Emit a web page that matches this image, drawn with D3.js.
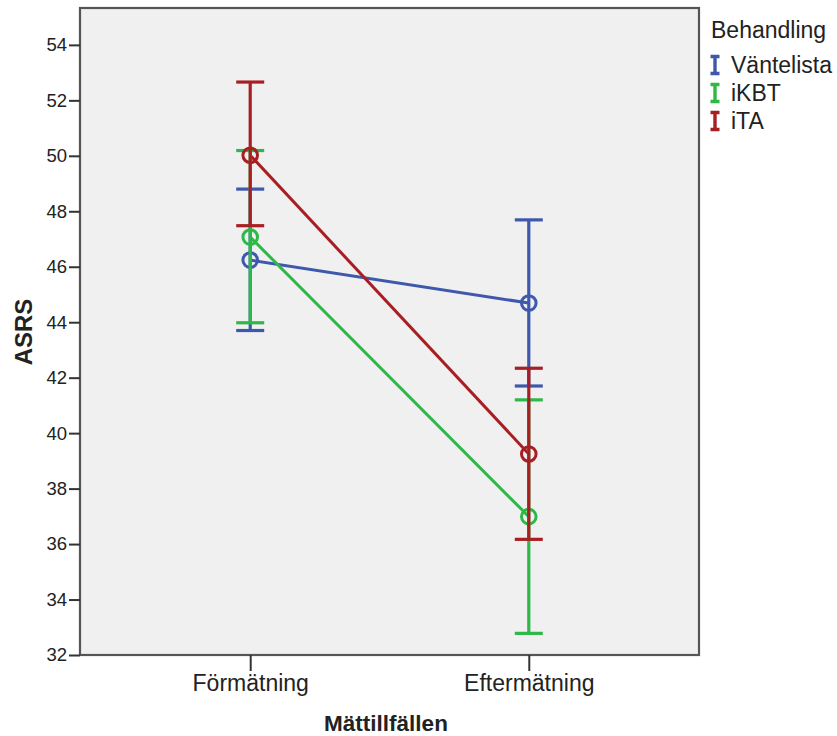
<!DOCTYPE html>
<html>
<head>
<meta charset="utf-8">
<script src="https://cdn.jsdelivr.net/npm/d3@7"></script>
<style>
  body { margin: 0; background: #fff; }
  text { font-family: "Liberation Sans", Arial, sans-serif; fill: #222; }
</style>
</head>
<body>
<div id="chart"></div>
<script>
const occasions = ["Förmätning", "Eftermätning"];
const groups = ["Väntelista", "iKBT", "iTA"];
const colors = ["#3e58ac", "#2eb848", "#a81f23"];

// mean, lower CI, upper CI per occasion
const ventMean = [46.24, 44.69];
const ventLow = [43.70, 41.70];
const ventHigh = [48.80, 47.69];

const ikbtMean = [47.07, 36.99];
const ikbtLow = [43.98, 32.78];
const ikbtHigh = [50.19, 41.20];

const itaMean = [50.02, 39.25];
const itaLow = [47.48, 36.17];
const itaHigh = [52.66, 42.34];

const yTicks = [32, 34, 36, 38, 40, 42, 44, 46, 48, 50, 52, 54];

const series = [
  { name: groups[0], mean: ventMean, low: ventLow, high: ventHigh, color: colors[0] },
  { name: groups[1], mean: ikbtMean, low: ikbtLow, high: ikbtHigh, color: colors[1] },
  { name: groups[2], mean: itaMean, low: itaLow, high: itaHigh, color: colors[2] }
];

const W = 837, H = 736;
const margin = { top: 8, right: 138, bottom: 81, left: 80 };

const svg = d3.select("#chart").append("svg")
  .attr("width", W)
  .attr("height", H);

let x = d3.scalePoint()
  .domain(occasions)
  .range([margin.left, W - margin.right])
  .padding(0.611);

let y = d3.scaleLinear()
  .domain([32, 55.33])
  .range([H - margin.bottom, margin.top]);

// plot background
svg.append("rect")
  .attr("x", margin.left)
  .attr("y", margin.top)
  .attr("width", W - margin.right - margin.left)
  .attr("height", H - margin.bottom - margin.top)
  .attr("fill", "#f0f0f0");

// lines between means
series.forEach(s => {
  svg.append("path")
    .datum(occasions)
    .attr("fill", "none")
    .attr("stroke", s.color)
    .attr("stroke-width", 3)
    .attr("d", d3.line()
      .x(d => x(d))
      .y((d, i) => y(s.mean[i])));
});

// error bars and mean markers
const cap = 14;
series.forEach(s => {
  let g = svg.append("g")
    .attr("stroke", s.color)
    .attr("stroke-width", 3.2)
    .attr("fill", "none");

  occasions.forEach((o, i) => {
    let cx = x(o);
    g.append("line")
      .attr("x1", cx).attr("x2", cx)
      .attr("y1", y(s.low[i])).attr("y2", y(s.high[i]));
    g.append("line")
      .attr("x1", cx - cap).attr("x2", cx + cap)
      .attr("y1", y(s.low[i])).attr("y2", y(s.low[i]));
    g.append("line")
      .attr("x1", cx - cap).attr("x2", cx + cap)
      .attr("y1", y(s.high[i])).attr("y2", y(s.high[i]));
    g.append("circle")
      .attr("cx", cx)
      .attr("cy", y(s.mean[i]))
      .attr("r", 7.3)
      .attr("stroke-width", 3);
  });
});

// frame
svg.append("rect")
  .attr("x", margin.left)
  .attr("y", margin.top)
  .attr("width", W - margin.right - margin.left)
  .attr("height", H - margin.bottom - margin.top)
  .attr("fill", "none")
  .attr("stroke", "#555")
  .attr("stroke-width", 2.2);

// y axis
let yAxis = svg.append("g")
  .attr("transform", "translate(" + margin.left + ",0)")
  .call(d3.axisLeft(y).tickValues(yTicks).tickSize(11).tickPadding(2));
yAxis.select(".domain").remove();
yAxis.selectAll(".tick line").attr("stroke", "#333").attr("stroke-width", 2);
yAxis.selectAll(".tick text")
  .attr("font-size", 18.5)
  .attr("font-family", "Liberation Sans, Arial, sans-serif")
  .attr("fill", "#222");

// x axis
let xAxis = svg.append("g")
  .attr("transform", "translate(0," + (H - margin.bottom) + ")")
  .call(d3.axisBottom(x).tickSize(16).tickPadding(4));
xAxis.select(".domain").remove();
xAxis.selectAll(".tick line").attr("stroke", "#333").attr("stroke-width", 2);
xAxis.selectAll(".tick text")
  .attr("font-size", 23)
  .attr("font-family", "Liberation Sans, Arial, sans-serif")
  .attr("fill", "#222");

// axis titles
svg.append("text")
  .attr("transform", "translate(32,332) rotate(-90)")
  .attr("text-anchor", "middle")
  .attr("font-size", 24)
  .attr("font-weight", "bold")
  .text("ASRS");

svg.append("text")
  .attr("x", 386)
  .attr("y", 731)
  .attr("text-anchor", "middle")
  .attr("font-size", 22.5)
  .attr("font-weight", "bold")
  .text("Mättillfällen");

// legend
svg.append("text")
  .attr("x", 711)
  .attr("y", 38)
  .attr("font-size", 23)
  .text("Behandling");

let legend = svg.append("g")
  .selectAll("g")
  .data(series)
  .enter()
  .append("g")
  .attr("transform", (d, i) => "translate(715," + (65 + i * 28) + ")");

legend.append("path")
  .attr("d", "M-4.5,-8.5H4.5M0,-8.5V8.5M-4.5,8.5H4.5")
  .attr("stroke", d => d.color)
  .attr("stroke-width", 3.4)
  .attr("fill", "none");

legend.append("text")
  .attr("x", 16)
  .attr("y", 8)
  .attr("font-size", 23)
  .text(d => d.name);
</script>
</body>
</html>
